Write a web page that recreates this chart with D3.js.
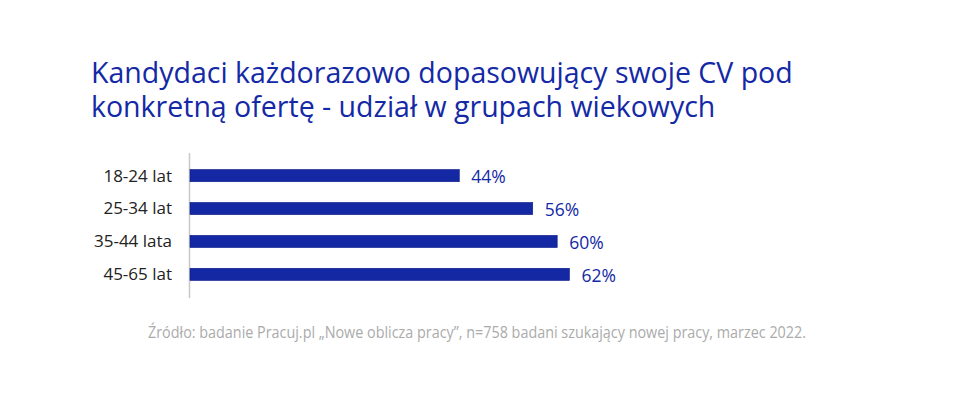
<!DOCTYPE html>
<html lang="pl">
<head>
<meta charset="UTF-8">
<title>Kandydaci dopasowujący CV</title>
<script src="https://cdnjs.cloudflare.com/ajax/libs/d3/7.8.5/d3.min.js"></script>
<style>
    body { margin: 0; background: #fff; }
    svg { display: block; font-family: "Open Sans", sans-serif; }
</style>
</head>
<body>
<svg width="960" height="395"></svg>
<script>
    // dane
    const ageGroups = ["18-24 lat", "25-34 lat", "35-44 lata", "45-65 lat"];
    const shares = [44, 56, 60, 62];
    const titleLines = [
        "Kandydaci każdorazowo dopasowujący swoje CV pod",
        "konkretną ofertę - udział w grupach wiekowych"
    ];
    const sourceText = "Źródło: badanie Pracuj.pl „Nowe oblicza pracy”, n=758 badani szukający nowej pracy, marzec 2022.";

    const blue = "#1528a3";
    const svg = d3.select("svg");

    // tytuł jako jeden tekst w dwóch liniach
    svg.append("text")
        .attr("class", "title")
        .attr("y", 83)
        .attr("fill", "#1429a5")
        .style("font-size", "28.5px")
        .selectAll("tspan")
        .data(titleLines)
        .enter()
        .append("tspan")
        .attr("x", 91)
        .attr("dy", (d, i) => i === 0 ? 0 : 34)
        .text(d => d);

    const x = d3.scaleLinear().domain([0, 100]).range([190, 802]);
    const y = d3.scaleBand().domain(ageGroups).range([159, 291]).paddingInner(0.63).paddingOuter(0.32);

    const data = ageGroups.map((g, i) => ({ group: g, value: shares[i] }));

    svg.append("line")
        .attr("x1", 189.5).attr("x2", 189.5)
        .attr("y1", 153).attr("y2", 298)
        .attr("stroke", "#c8c8c8")
        .attr("stroke-width", 1.5);

    svg.selectAll(".bar")
        .data(data)
        .enter()
        .append("rect")
        .attr("class", "bar")
        .attr("x", x(0))
        .attr("y", d => y(d.group))
        .attr("width", d => x(d.value) - x(0))
        .attr("height", y.bandwidth())
        .attr("fill", blue)
        .attr("stroke", "#0c1c88")
        .attr("stroke-width", 0.6);

    svg.selectAll(".cat")
        .data(data)
        .enter()
        .append("text")
        .attr("class", "cat")
        .attr("x", 172)
        .attr("y", d => y(d.group) + y.bandwidth() / 2)
        .attr("dy", "0.35em")
        .attr("text-anchor", "end")
        .attr("fill", "#222")
        .style("font-size", "17px")
        .text(d => d.group);

    svg.selectAll(".val")
        .data(data)
        .enter()
        .append("text")
        .attr("class", "val")
        .attr("x", d => x(d.value) + 12)
        .attr("y", d => y(d.group) + y.bandwidth() / 2 + 1)
        .attr("dy", "0.35em")
        .attr("fill", "#1429a5")
        .style("font-size", "17.5px")
        .text(d => d.value + "%");

    svg.append("text")
        .attr("x", 148)
        .attr("y", 338)
        .attr("fill", "#ababab")
        .style("font-size", "16px")
        .attr("textLength", 658)
        .attr("lengthAdjust", "spacingAndGlyphs")
        .text(sourceText);
</script>
</body>
</html>
